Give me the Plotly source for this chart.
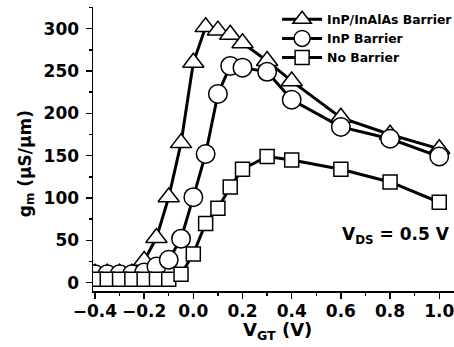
import plotly.graph_objects as go

vgt = [-0.4, -0.35, -0.3, -0.25, -0.2, -0.15, -0.1, -0.05, 0.0, 0.05, 0.1, 0.15, 0.2, 0.3, 0.4, 0.6, 0.8, 1.0]
gm_inp_inalas = [11, 11, 11, 11, 26, 53, 101, 165, 260, 302, 298, 293, 283, 262, 238, 195, 175, 158]
gm_inp = [10, 10, 10, 10, 12, 19, 27, 52, 101, 152, 223, 256, 254, 249, 216, 184, 170, 149]
gm_none = [4, 4, 4, 4, 4, 4, 4, 10, 34, 70, 88, 113, 134, 149, 145, 134, 119, 95]

names = ["InP/InAlAs Barrier", "InP Barrier", "No Barrier"]
series = [gm_inp_inalas, gm_inp, gm_none]
symbols = ["triangle-up", "circle", "square"]
sizes = [18.5, 18.5, 14]

FONT = "DejaVu Sans"

fig = go.Figure()
for nm, ys, sym, sz in zip(names, series, symbols, sizes):
    fig.add_trace(go.Scatter(
        x=vgt, y=ys, name=nm, mode="lines+markers",
        line=dict(color="black", width=3),
        marker=dict(symbol=sym, size=sz, color="white",
                    line=dict(color="black", width=1.5)),
    ))

fig.update_layout(
    width=454, height=347,
    margin=dict(l=93, r=0, t=7, b=56, autoexpand=False),
    paper_bgcolor="white", plot_bgcolor="white",
    font=dict(family=FONT, color="black"),
    showlegend=True,
    legend=dict(x=0.51, y=1.008, xanchor="left", yanchor="top",
                bgcolor="rgba(0,0,0,0)", itemwidth=40,
                font=dict(size=12.4, family=FONT, weight="bold"),
                tracegroupgap=0),
    xaxis=dict(range=[-0.408, 1.06], showgrid=False, zeroline=False, automargin=False,
               showline=True, linecolor="black", linewidth=1.5,
               ticks="outside", ticklen=6, tickwidth=1.5, tickcolor="black",
               dtick=0.2, tick0=0, tickformat=".1f", ticklabeloverflow="allow",
               ticklabelstandoff=-2,
               minor=dict(dtick=0.1, ticks="outside", ticklen=3, tickwidth=1.5, tickcolor="black"),
               tickfont=dict(size=17, family=FONT, weight="bold")),
    xaxis2=dict(overlaying="x", side="top", range=[0, 9.84], dtick=1, tick0=0, automargin=False,
                showgrid=False, zeroline=False, showline=True, linecolor="black",
                linewidth=1.5, ticks="inside", ticklen=4, tickwidth=1.5,
                tickcolor="black", showticklabels=False),
    yaxis=dict(range=[-9.8, 325.6], showgrid=False, zeroline=False, automargin=False,
               showline=True, linecolor="black", linewidth=1.5,
               ticks="outside", ticklen=6, tickwidth=1.5, tickcolor="black",
               dtick=50, tick0=0, ticklabelstandoff=3,
               minor=dict(dtick=25, ticks="outside", ticklen=3, tickwidth=1.5, tickcolor="black"),
               tickfont=dict(size=17, family=FONT, weight="bold")),
    annotations=[
        dict(text="V<sub>DS</sub> = 0.5 V", xref="paper", yref="paper",
             x=0.9945, y=0.1937, xanchor="right", yanchor="middle", showarrow=False,
             font=dict(size=17, family=FONT, weight="bold")),
        dict(text="V<sub>GT</sub> (V)", xref="paper", yref="paper",
             x=0.51, y=-0.142, xanchor="center", yanchor="middle", showarrow=False,
             font=dict(size=18, family=FONT, weight="bold")),
        dict(text="g<sub>m</sub> (µS/µm)", xref="paper", yref="paper", textangle=-90,
             x=-0.1856, y=0.45, xanchor="center", yanchor="middle", showarrow=False,
             font=dict(size=17, family=FONT, weight="bold")),
    ],
)

fig.write_html("out.html", config={"displayModeBar": False, "staticPlot": True},
               post_script="document.body.style.margin='0';document.body.style.overflow='hidden';")
